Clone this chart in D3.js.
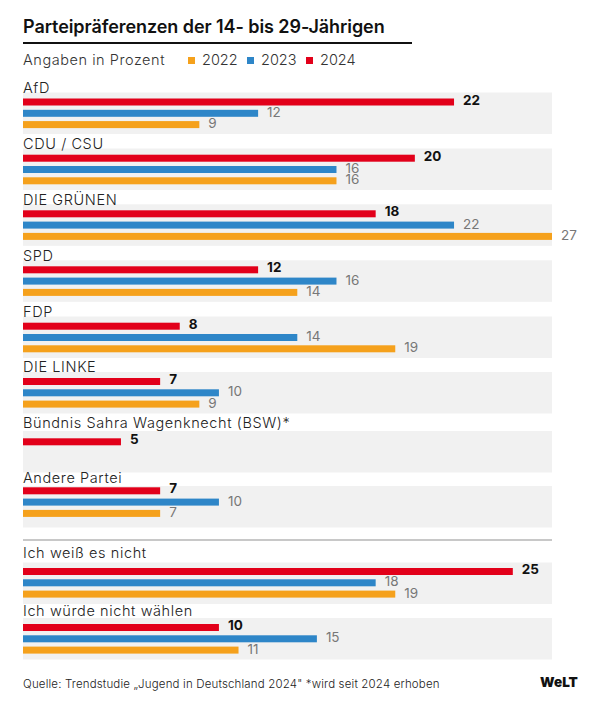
<!DOCTYPE html>
<html>
<head>
<meta charset="utf-8">
<script src="https://cdn.jsdelivr.net/npm/d3@7"></script>
<style>
body { margin: 0; background: #fff; }
text { font-family: Inter, sans-serif; }
</style>
</head>
<body>
<svg></svg>
<script>
var width = 600;
var height = 704;

var parties = ["AfD", "CDU / CSU", "DIE GRÜNEN", "SPD", "FDP", "DIE LINKE",
    "Bündnis Sahra Wagenknecht (BSW)*", "Andere Partei", "Ich weiß es nicht", "Ich würde nicht wählen"];
var years = ["2024", "2023", "2022"];
var legendYears = ["2022", "2023", "2024"];
var values2024 = [22, 20, 18, 12, 8, 7, 5, 7, 25, 10];
var values2023 = [12, 16, 22, 16, 14, 10, null, 10, 18, 15];
var values2022 = [9, 16, 27, 14, 19, 9, null, 7, 19, 11];
var seriesValues = { "2024": values2024, "2023": values2023, "2022": values2022 };

var colors = d3.scaleOrdinal()
    .domain(years)
    .range(["#e2001a", "#2e86c8", "#f5a11c"]);

var xScale = d3.scaleLinear()
    .domain([0, 27])
    .range([23, 552]);

// the groups are not evenly spaced in the original, so each row gets its own slot
var yBand = d3.scaleOrdinal()
    .domain(parties)
    .range([92.5, 148.5, 204.3, 260.3, 316.5, 372, 431, 486, 562.5, 618]);

var yBars = d3.scaleOrdinal()
    .domain(parties)
    .range([98.5, 154.7, 210.3, 266.3, 322.7, 378, 438.3, 487.3, 568, 624]);

var yLabel = d3.scaleOrdinal()
    .domain(parties)
    .range([92.7, 149, 205, 260.7, 316.7, 372, 428, 483, 558.3, 616]);

var yBar = d3.scaleBand()
    .domain(years)
    .range([0, 29.6])
    .paddingInner(0.38);

var svg = d3.select("svg")
    .attr("width", width)
    .attr("height", height)
    .style("display", "block");

//title
svg.append("text")
    .attr("x", 23)
    .attr("y", 33)
    .style("font-size", "18px")
    .style("font-weight", 600)
    .style("letter-spacing", "-0.07px")
    .style("fill", "#111")
    .text("Parteipräferenzen der 14- bis 29-Jährigen");

svg.append("rect")
    .attr("x", 23)
    .attr("y", 42)
    .attr("width", 389)
    .attr("height", 2)
    .attr("fill", "#111");

svg.append("text")
    .attr("x", 23)
    .attr("y", 65)
    .style("font-size", "14.5px")
    .style("font-weight", 300)
    .style("letter-spacing", "0.55px")
    .style("fill", "#333")
    .text("Angaben in Prozent");

//legend
var legendX = d3.scalePoint()
    .domain(legendYears)
    .range([188, 306]);

var legend = svg.selectAll(".legend")
    .data(legendYears)
    .enter()
    .append("g")
    .attr("class", "legend")
    .attr("transform", d => "translate(" + legendX(d) + ",0)");

legend.append("rect")
    .attr("y", 57)
    .attr("width", 7)
    .attr("height", 7)
    .attr("fill", d => colors(d));

legend.append("text")
    .attr("x", 14)
    .attr("y", 65)
    .style("font-size", "14.5px")
    .style("font-weight", 300)
    .style("fill", "#333")
    .text(d => d);

//separator above the last two groups
svg.append("rect")
    .attr("x", 23)
    .attr("y", 539)
    .attr("width", 529)
    .attr("height", 2)
    .attr("fill", "#c8c8c8");

var groups = svg.selectAll(".group")
    .data(parties)
    .enter()
    .append("g")
    .attr("class", "group");

groups.append("rect")
    .attr("x", 23)
    .attr("y", d => yBand(d))
    .attr("width", 529)
    .attr("height", 41.5)
    .attr("fill", "#f1f1f1");

groups.append("text")
    .attr("x", 23)
    .attr("y", d => yLabel(d))
    .style("font-size", "14.5px")
    .style("font-weight", 300)
    .style("letter-spacing", "0.6px")
    .style("fill", "#222")
    .text(d => d);

var rows = groups.selectAll(".row")
    .data(function(party) {
        var i = parties.indexOf(party);
        return years
            .map(year => ({ party: party, year: year, value: seriesValues[year][i] }))
            .filter(d => d.value !== null);
    })
    .enter()
    .append("g")
    .attr("class", "row")
    .attr("transform", d => "translate(0," + (yBars(d.party) + yBar(d.year)) + ")");

rows.append("rect")
    .attr("x", xScale(0))
    .attr("width", d => xScale(d.value) - xScale(0))
    .attr("height", yBar.bandwidth())
    .attr("fill", d => colors(d.year));

rows.append("text")
    .attr("x", d => xScale(d.value) + 9)
    .attr("y", d => yBar.bandwidth() / 2 + (d.year === "2024" ? 2.5 : 3.5))
    .style("font-size", "13.5px")
    .style("font-weight", d => d.year === "2024" ? 700 : 400)
    .style("fill", d => d.year === "2024" ? "#111" : "#777")
    .text(d => d.value);

//footer
svg.append("text")
    .attr("x", 23)
    .attr("y", 688)
    .style("font-size", "11.5px")
    .style("font-weight", 300)
    .style("letter-spacing", "0.16px")
    .style("fill", "#222")
    .text("Quelle: Trendstudie „Jugend in Deutschland 2024\"  *wird seit 2024 erhoben");

svg.append("text")
    .attr("x", 540)
    .attr("y", 687)
    .style("font-size", "13.5px")
    .style("font-weight", 900)
    .style("fill", "#111")
    .text("WeLT");
</script>
</body>
</html>
